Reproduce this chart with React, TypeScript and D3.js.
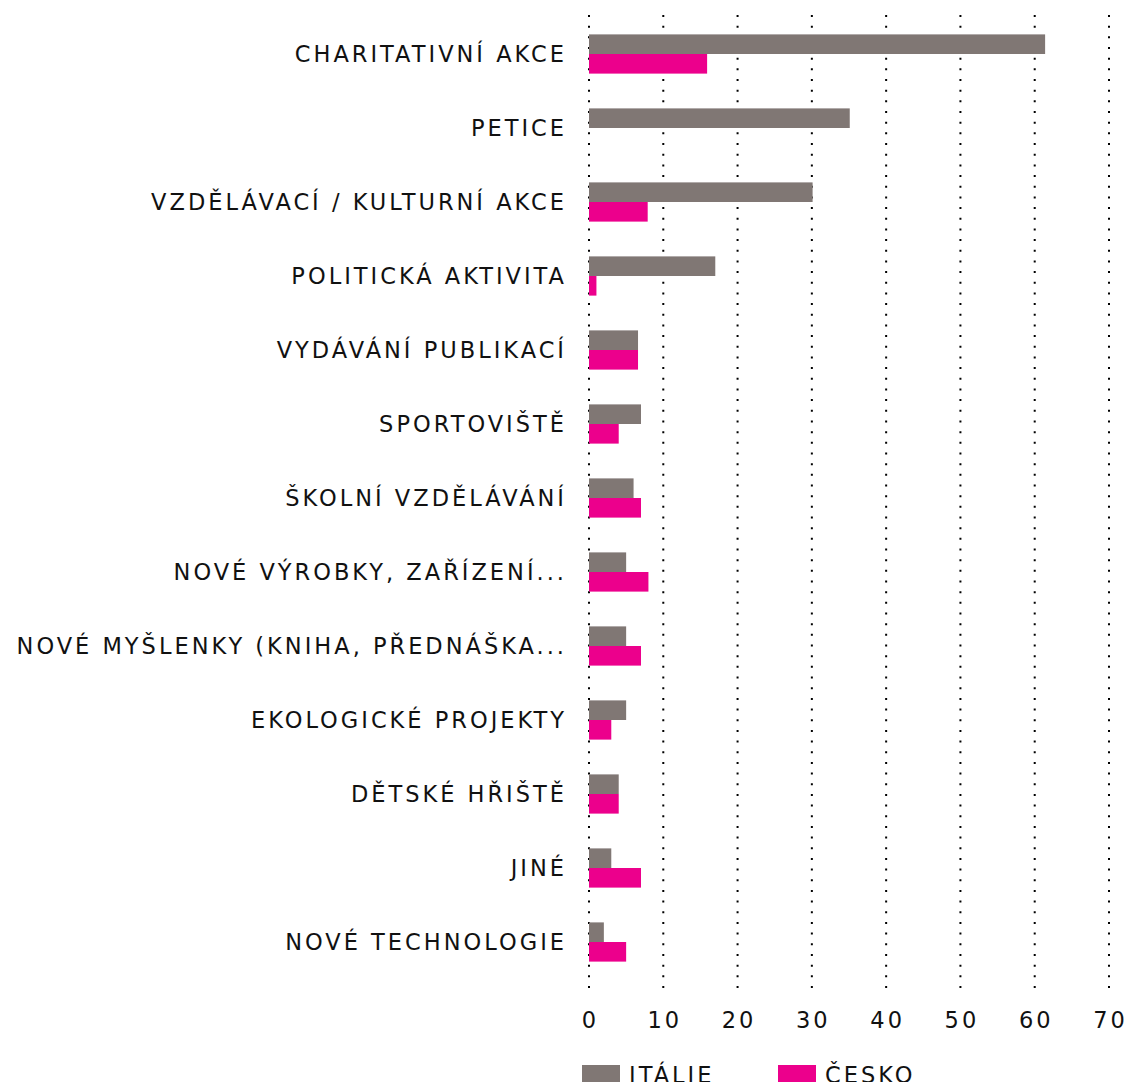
import React from 'react';
import * as d3 from 'd3';

const categories = [
  'CHARITATIVNÍ AKCE',
  'PETICE',
  'VZDĚLÁVACÍ / KULTURNÍ AKCE',
  'POLITICKÁ AKTIVITA',
  'VYDÁVÁNÍ PUBLIKACÍ',
  'SPORTOVIŠTĚ',
  'ŠKOLNÍ VZDĚLÁVÁNÍ',
  'NOVÉ VÝROBKY, ZAŘÍZENÍ...',
  'NOVÉ MYŠLENKY (KNIHA, PŘEDNÁŠKA...',
  'EKOLOGICKÉ PROJEKTY',
  'DĚTSKÉ HŘIŠTĚ',
  'JINÉ',
  'NOVÉ TECHNOLOGIE',
];

const italie = [61.4, 35.1, 30.1, 17, 6.6, 7, 6, 5, 5, 5, 4, 3, 2];
const cesko = [15.9, 0, 7.9, 1, 6.6, 4, 7, 8, 7, 3, 4, 7, 5];

const seriesNames = ['ITÁLIE', 'ČESKO'];
const seriesColors = ['#807774', '#EC008C'];
const xTicks = [0, 10, 20, 30, 40, 50, 60, 70];

const W = 1126;
const H = 1082;
const FONT = '"DejaVu Sans", Verdana, sans-serif';
const FS = 22.5;
const LS = 3;

export default function App() {
  const x = d3.scaleLinear().domain([0, 70]).range([589, 1109]);
  const y = d3
    .scaleBand<string>()
    .domain(categories)
    .range([17, 979])
    .paddingInner(0.47)
    .paddingOuter(0.235);
  const ySub = d3
    .scaleBand<string>()
    .domain(seriesNames)
    .range([0, y.bandwidth()]);

  const values = [italie, cesko];

  return (
    <svg
      width={W}
      height={H}
      style={{ position: 'absolute', left: 0, top: 0, background: '#fff' }}
      fontFamily={FONT}
    >
      {/* dotted grid */}
      {xTicks.map((t) => (
        <line
          key={'g' + t}
          x1={x(t)}
          x2={x(t)}
          y1={15}
          y2={990}
          stroke="#000"
          strokeWidth={2}
          strokeDasharray="2,8.67"
        />
      ))}

      {/* bars */}
      {categories.map((c, i) => (
        <g key={c} transform={`translate(0,${y(c)})`}>
          {seriesNames.map((s, j) => (
            <rect
              key={s}
              x={x(0)}
              y={ySub(s)}
              width={x(values[j][i]) - x(0)}
              height={ySub.bandwidth()}
              fill={seriesColors[j]}
            />
          ))}
          <text
            x={x(0) - 25 + LS}
            y={y.bandwidth() / 2 + 8}
            textAnchor="end"
            fontSize={FS}
            letterSpacing={LS}
            fill="#111"
          >
            {c}
          </text>
        </g>
      ))}

      {/* x tick labels */}
      {xTicks.map((t) => (
        <text
          key={'t' + t}
          x={x(t) + LS / 2}
          y={1028}
          textAnchor="middle"
          fontSize={FS}
          letterSpacing={LS}
          fill="#111"
        >
          {t}
        </text>
      ))}

      {/* legend */}
      {seriesNames.map((s, j) => {
        const lx = j === 0 ? 582 : 778;
        return (
          <g key={'l' + s}>
            <rect x={lx} y={1065} width={38} height={20} fill={seriesColors[j]} />
            <text
              x={lx + 47}
              y={1083}
              fontSize={FS}
              letterSpacing={LS}
              fill="#111"
            >
              {s}
            </text>
          </g>
        );
      })}
    </svg>
  );
}
